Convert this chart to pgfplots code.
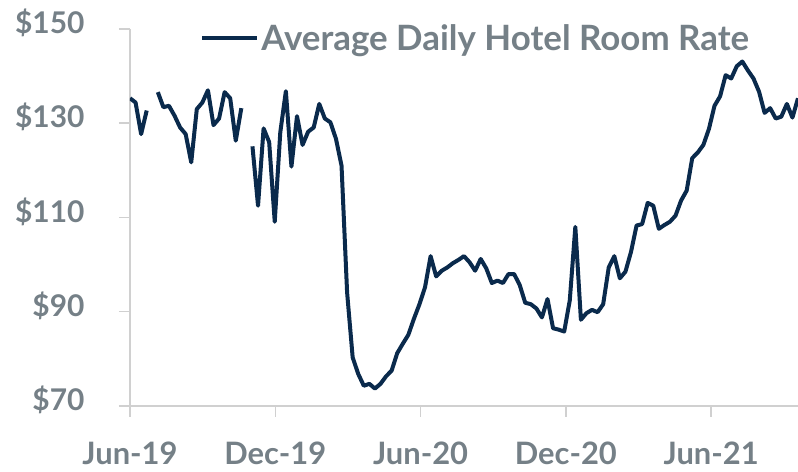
\documentclass[border=0pt]{standalone}
\usepackage{fontspec}
\setmainfont{Lato}
\usepackage{pgfplots}
\pgfplotsset{compat=1.18}
\usepackage{pgfplotstable}
\definecolor{navy}{RGB}{10,42,76}
\definecolor{txtgray}{RGB}{117,128,135}
\definecolor{axgray}{RGB}{208,208,208}
\pgfplotstableread{
x y
0 135.3
1 134.4
2 127.7
3 132.7
4 nan
5 136.6
6 133.4
7 133.7
8 131.6
9 129.1
10 127.7
11 121.7
12 133.0
13 134.4
14 137.0
15 129.6
16 131.0
17 136.6
18 135.3
19 126.3
20 133.2
21 nan
22 125.1
23 112.5
24 128.9
25 126.0
26 109.1
27 128.1
28 136.8
29 120.8
30 131.5
31 125.4
32 128.2
33 129.1
34 134.1
35 131.0
36 130.2
37 126.7
38 121.0
39 94.1
40 80.3
41 76.8
42 74.3
43 74.7
44 73.7
45 74.7
46 76.3
47 77.5
48 81.2
49 83.2
50 85.1
51 88.5
52 91.6
53 95.2
54 101.8
55 97.5
56 98.7
57 99.4
58 100.3
59 101.0
60 101.8
61 100.5
62 98.7
63 101.2
64 99.2
65 96.1
66 96.6
67 96.1
68 98.0
69 98.0
70 95.7
71 91.9
72 91.6
73 90.7
74 88.8
75 92.7
76 86.5
77 86.2
78 85.8
79 92.4
80 108.0
81 88.3
82 89.7
83 90.4
84 89.9
85 91.6
86 99.4
87 101.8
88 97.1
89 98.5
90 102.7
91 108.3
92 108.6
93 113.1
94 112.5
95 107.6
96 108.4
97 109.1
98 110.4
99 113.6
100 115.7
101 122.6
102 123.8
103 125.4
104 128.8
105 133.7
106 135.7
107 140.2
108 139.5
109 142.1
110 143.1
111 141.2
112 139.5
113 136.7
114 132.2
115 133.2
116 131.0
117 131.4
118 134.1
119 131.2
120 135.3
}\ratedata
\begin{document}
\begin{tikzpicture}
\begin{axis}[
  scale only axis,
  width=668bp, height=377bp,
  xmin=0, xmax=120,
  ymin=70, ymax=150,
  axis x line*=bottom,
  axis y line*=left,
  axis line style={axgray, line width=1.5bp, -},
  tick style={axgray, line width=1.5bp},
  tick align=outside,
  major tick length=11bp,
  xtick={0,26.1,52.2,78.3,104.4},
  xticklabels={Jun-19,Dec-19,Jun-20,Dec-20,Jun-21},
  ytick={70,90,110,130,150},
  yticklabels={\$70,\$90,\$110,\$130,\$150},
  ticklabel style={text=txtgray},
  yticklabel style={font=\fontsize{30}{34}\selectfont\bfseries, anchor=east, xshift=-31bp, yshift=6bp},
  xticklabel style={font=\fontsize{31}{36}\selectfont\bfseries, anchor=north, yshift=-21bp},
  unbounded coords=jump,
  legend style={draw=none, fill=none, at={(0.105,0.975)}, anchor=west,
    inner sep=0pt, font=\fontsize{35}{40}\selectfont\bfseries, text=txtgray,
    legend cell align=left},
  legend image code/.code={\draw[#1] (0bp,0bp) -- (55bp,0bp);},
]
\addplot[navy, line width=4bp, line join=round] table[x=x,y=y] {\ratedata};
\addlegendentry{Average Daily Hotel Room Rate}
\end{axis}
\pgfresetboundingbox
\path (current axis.south west) ++(-130bp,-66bp) rectangle ([shift={(0bp,29bp)}]current axis.north east);
\end{tikzpicture}
\end{document}
